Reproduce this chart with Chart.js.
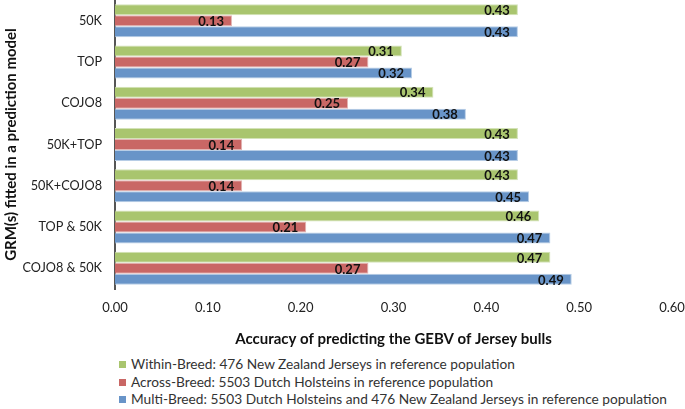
<!DOCTYPE html>
<html>
<head>
<meta charset="utf-8">
<script src="https://cdn.jsdelivr.net/npm/chart.js@4"></script>
<style>
  body { margin: 0; background: #fff; font-family: Lato, sans-serif; }
  #wrap { position: relative; width: 685px; height: 352px; }
  #legenda { position: absolute; left: 119px; top: 355px; font-size: 13.7px; color: #333; }
  #legenda div { height: 17.5px; line-height: 17.5px; white-space: nowrap; }
  #legenda span { display: inline-block; width: 7px; height: 7px; margin-right: 5px; vertical-align: 1px; }
</style>
</head>
<body>
<div id="wrap"><canvas id="chart"></canvas></div>
<div id="legenda"></div>
<script>
// --- dados ---
const categorias = ["50K", "TOP", "COJO8", "50K+TOP", "50K+COJO8", "TOP & 50K", "COJO8 & 50K"];
const withinBreed = [0.434, 0.309, 0.343, 0.434, 0.434, 0.457, 0.469];
const acrossBreed = [0.126, 0.273, 0.251, 0.137, 0.137, 0.206, 0.273];
const multiBreed = [0.434, 0.320, 0.378, 0.434, 0.446, 0.469, 0.492];
const nomesSeries = [
  "Within-Breed: 476 New Zealand Jerseys in reference population",
  "Across-Breed: 5503 Dutch Holsteins in reference population",
  "Multi-Breed: 5503 Dutch Holsteins and 476 New Zealand Jerseys in reference population"
];
const coresSeries = ["#A9C56E", "#C96765", "#6894C8"];
const bordasSeries = ["#D3E2B8", "#E2B4B3", "#B7CDE6"];

// plugin simples para escrever o valor no fim de cada barra
const rotulosBarras = {
  id: "rotulosBarras",
  afterDatasetsDraw(chart) {
    const ctx = chart.ctx;
    ctx.save();
    ctx.font = "bold 13px Lato";
    ctx.fillStyle = "#111";
    ctx.textAlign = "right";
    ctx.textBaseline = "middle";
    chart.data.datasets.forEach((ds, i) => {
      chart.getDatasetMeta(i).data.forEach((bar, j) => {
        ctx.fillText(ds.data[j].toFixed(2), bar.x - 8, bar.y + 1);
      });
    });
    ctx.restore();
  }
};

const series = [withinBreed, acrossBreed, multiBreed];

new Chart(document.getElementById("chart").getContext("2d"), {
  type: "bar",
  data: {
    labels: categorias,
    datasets: series.map((d, i) => ({
      label: nomesSeries[i],
      data: d,
      backgroundColor: coresSeries[i],
      borderColor: bordasSeries[i],
      borderWidth: 1,
      categoryPercentage: 0.8,
      barPercentage: 1.0
    }))
  },
  options: {
    indexAxis: "y",
    responsive: true,
    maintainAspectRatio: false,
    animation: false,
    layout: { padding: 0 },
    plugins: { legend: { display: false }, tooltip: { enabled: false } },
    scales: {
      x: {
        min: 0, max: 0.6,
        ticks: { stepSize: 0.1, color: "#222", font: { family: "Lato", size: 13 }, padding: 11,
          callback: v => Number(v).toFixed(2) },
        grid: { display: false, drawTicks: false },
        border: { display: false },
        title: { display: true, text: "Accuracy of predicting the GEBV of Jersey bulls",
          color: "#111", font: { family: "Lato", size: 15, weight: "bold" }, padding: { top: 3, bottom: 4 } },
        afterFit: s => { s.height = 63; s.paddingRight = 13; s.paddingLeft = 0; }
      },
      y: {
        ticks: { color: "#222", font: { family: "Lato", size: 12.7 }, padding: 13 },
        grid: { display: false, drawTicks: false },
        border: { display: true, color: "#555", width: 2 },
        title: { display: true, text: "GRM(s) fitted in a prediction model",
          color: "#111", font: { family: "Lato", size: 15, weight: "bold" }, padding: { top: 2, bottom: 0 } },
        afterFit: s => { s.width = 115; s.paddingTop = 0; s.paddingBottom = 0; }
      }
    }
  },
  plugins: [rotulosBarras]
});

// legenda em HTML, uma série por linha
document.getElementById("legenda").innerHTML = nomesSeries.map((n, i) =>
  `<div><span style="background:${coresSeries[i]}"></span>${n}</div>`).join("");
</script>
</body>
</html>
